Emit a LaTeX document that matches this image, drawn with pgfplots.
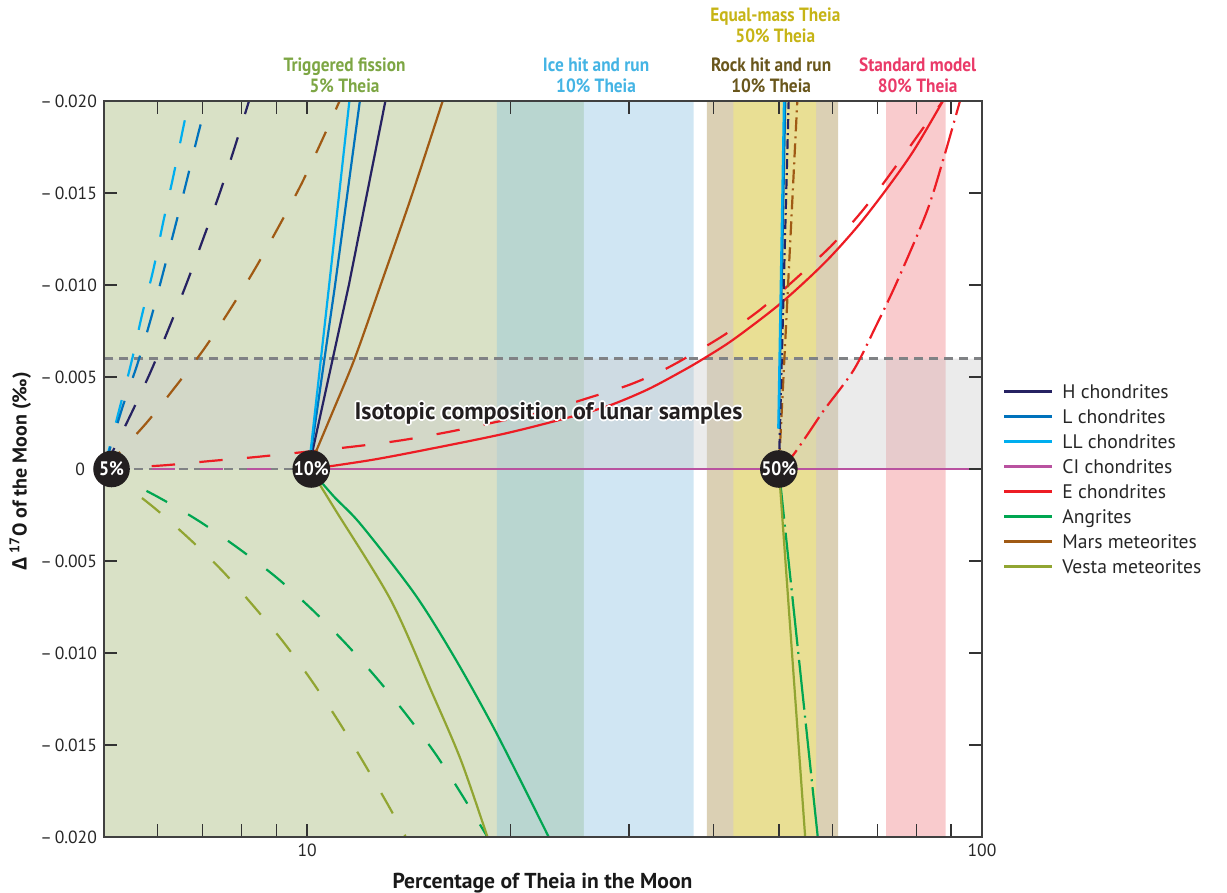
\documentclass[border=0pt]{standalone}
\usepackage{fontspec}
\setmainfont{PT Sans}
\newfontfamily\condfont[FakeStretch=0.9]{PT Sans}
\newfontfamily\deltafont{Open Sans}
\usepackage{pgfplots}
\pgfplotsset{compat=1.18}

\definecolor{cH}{RGB}{38,34,98}
\definecolor{cL}{RGB}{0,114,188}
\definecolor{cLL}{RGB}{0,174,239}
\definecolor{cCI}{RGB}{185,82,160}
\definecolor{cE}{RGB}{237,28,36}
\definecolor{cAng}{RGB}{0,166,81}
\definecolor{cMars}{RGB}{160,90,20}
\definecolor{cVesta}{RGB}{145,165,50}
\definecolor{bgFis}{RGB}{217,225,198}
\definecolor{bgTeal}{RGB}{185,214,208}
\definecolor{bgIce}{RGB}{208,230,243}
\definecolor{bgRock}{RGB}{219,208,180}
\definecolor{bgEq}{RGB}{233,223,148}
\definecolor{bgStd}{RGB}{249,203,205}
\definecolor{tFis}{RGB}{125,166,68}
\definecolor{tIce}{RGB}{68,180,228}
\definecolor{tRock}{RGB}{105,86,28}
\definecolor{tEq}{RGB}{198,180,22}
\definecolor{tStd}{RGB}{234,58,104}
\definecolor{dotgray}{RGB}{128,130,133}
\definecolor{circ}{RGB}{35,31,32}

\newcommand{\legline}[1]{\textcolor{#1}{\rule[2.9pt]{24pt}{1.5pt}}\hspace{5pt}}

\tikzset{
  dsh/.style={dash pattern=on 11.7pt off 12.2pt},
  ddE/.style={dash pattern=on 13pt off 3pt on 1pt off 3pt},
  ddG/.style={dash pattern=on 25pt off 3pt on 1pt off 3pt},
  ddH/.style={dash pattern=on 5pt off 2pt on 1pt off 2pt},
  ddM/.style={dash pattern=on 7pt off 2.5pt on 1pt off 2.5pt},
  pct/.style={circle, fill=circ, inner sep=0pt, minimum size=18.3pt, text=white,
    font=\condfont\bfseries\fontsize{9.8}{10}\selectfont},
  ttl/.style={anchor=base, font=\condfont\bfseries\fontsize{9.6}{10}\selectfont},
  iso/.style={anchor=base, font=\bfseries\fontsize{12}{13}\selectfont},
}

\begin{document}
\begin{tikzpicture}
\path[use as bounding box] (-52pt,-28pt) rectangle (561.5pt,418.5pt);
\begin{axis}[
  at={(0,0)}, anchor=south west,
  scale only axis, width=439pt, height=368pt,
  xmode=log, xmin=5, xmax=100, ymin=-0.02, ymax=0.02,
  xtick={10,100}, xticklabels={10,100},
  minor xtick={6,7,8,9,20,30,40,50,60,70,80,90},
  ytick={-0.02,-0.015,-0.01,-0.005,0,0.005,0.01,0.015,0.02},
  yticklabels={–\,0.020,–\,0.015,–\,0.010,–\,0.005,0\kern6pt,–\,0.005,–\,0.010,–\,0.015,–\,0.020},
  scaled y ticks=false,
  tick align=inside,
  major tick length=6.5pt, minor tick length=6.5pt,
  every tick/.style={black!80, line width=0.7pt},
  axis line style={black!75, line width=0.9pt},
  ticklabel style={font=\fontsize{8.8}{10}\selectfont, text=black!85},
  xlabel={\bfseries Percentage of Theia in the Moon},
  ylabel={\bfseries{\deltafont\bfseries Δ}\,\textsuperscript{17}O of the Moon (‰)},
  xlabel style={at={(axis description cs:0.4994,-0.0698)}, anchor=base, font=\fontsize{10.8}{12}\selectfont, text=black!90},
  ylabel style={at={(axis description cs:-0.0881,0.497)}, anchor=base, font=\fontsize{10}{11}\selectfont, text=black!90},
  clip mode=individual,
  axis on top,
  legend image code/.code={},
  legend cell align=left,
  legend style={at={(1.0228,0.6168)}, anchor=north west, draw=none, fill=none,
    font=\fontsize{9.8}{11}\selectfont, text=black!85, row sep=1.8pt, inner sep=0pt,
    nodes={inner sep=1pt, text height=6.7pt, text depth=2pt}},
]
% background regions
\addplot[draw=none, fill=bgFis, forget plot] coordinates {(5,-0.02) (19.1,-0.02) (19.1,0.02) (5,0.02) (5,-0.02)};
\addplot[draw=none, fill=bgTeal, forget plot] coordinates {(19.1,-0.02) (25.7,-0.02) (25.7,0.02) (19.1,0.02) (19.1,-0.02)};
\addplot[draw=none, fill=bgIce, forget plot] coordinates {(25.7,-0.02) (37.4,-0.02) (37.4,0.02) (25.7,0.02) (25.7,-0.02)};
\addplot[draw=none, fill=bgRock, forget plot] coordinates {(39.1,-0.02) (61.2,-0.02) (61.2,0.02) (39.1,0.02) (39.1,-0.02)};
\addplot[draw=none, fill=bgEq, forget plot] coordinates {(42.8,-0.02) (56.8,-0.02) (56.8,0.02) (42.8,0.02) (42.8,-0.02)};
\addplot[draw=none, fill=bgStd, forget plot] coordinates {(72.1,-0.02) (88.3,-0.02) (88.3,0.02) (72.1,0.02) (72.1,-0.02)};
% lunar band
\addplot[draw=none, fill=gray!40, fill opacity=0.4, forget plot] coordinates {(5,0) (100,0) (100,0.006) (5,0.006) (5,0)};
\addplot[dotgray, line width=1.1pt, dash pattern=on 4.5pt off 3pt, forget plot] coordinates {(5,0.006) (100,0.006)};
\addplot[dotgray, line width=1.1pt, dash pattern=on 4.5pt off 3pt, forget plot] coordinates {(5,0) (100,0)};

% ---- 5% Theia (dashed) ----
\addplot[cLL, line width=1.1pt, dsh, smooth, forget plot] coordinates {(5,0) (5.27,0.00326) (5.49,0.0058) (5.69,0.00834) (5.92,0.01087) (6.12,0.01342) (6.34,0.01598) (6.55,0.01852) (6.68,0.02)};
\addplot[cL, line width=1.1pt, dsh, smooth, forget plot] coordinates {(5,0) (5.31,0.00321) (5.60,0.00567) (5.87,0.00819) (6.12,0.01069) (6.38,0.01323) (6.64,0.01575) (6.90,0.01826) (7.11,0.02)};
\addplot[cH, line width=1.1pt, dsh, smooth, forget plot] coordinates {(5,0) (5.48,0.00297) (5.87,0.00533) (6.25,0.00772) (6.64,0.01016) (7.03,0.01261) (7.43,0.01505) (7.82,0.01755) (8.2,0.02)};
\addplot[cMars, line width=1.1pt, dsh, smooth, forget plot] coordinates {(5,0) (5.75,0.00241) (6.37,0.00444) (7.03,0.00651) (7.70,0.0087) (8.38,0.01091) (9.08,0.01319) (9.80,0.01547) (10.51,0.01783) (11.17,0.02)};
\addplot[cAng, line width=1.1pt, dsh, smooth, forget plot] coordinates {(5,0) (6.01,-0.00152) (6.92,-0.00284) (7.91,-0.00431) (9.01,-0.0059) (10.17,-0.00764) (11.41,-0.00949) (12.72,-0.01143) (14.09,-0.01344) (15.52,-0.01552) (16.97,-0.01773) (18.5,-0.02)};
\addplot[cVesta, line width=1.1pt, dsh, smooth, forget plot] coordinates {(5,0) (5.89,-0.00201) (6.67,-0.00375) (7.49,-0.00554) (8.35,-0.0075) (9.26,-0.00949) (10.2,-0.01161) (11.16,-0.01378) (12.15,-0.01601) (13.18,-0.01826) (14.0,-0.02)};
\addplot[cE, line width=1.1pt, dsh, smooth, forget plot] coordinates {(5,0) (6.14,0.0002) (7.22,0.00044) (8.5,0.00067) (11.6,0.0012) (13.8,0.00156) (16.18,0.00201) (19.03,0.00255) (22.38,0.0031) (25.93,0.00383) (30.05,0.00458) (34.31,0.00552) (40.75,0.0071) (46.7,0.0086) (53.19,0.0104) (60.05,0.0122) (67.06,0.0142) (74.03,0.0163) (80.97,0.0183) (87.5,0.02)};
\addplot[cCI, line width=1.4pt, dsh, forget plot] coordinates {(5,0) (10,0)};

% ---- 10% Theia (solid) ----
\addplot[cMars, line width=1.1pt, smooth, forget plot] coordinates {(10.05,0) (10.88,0.003) (11.76,0.006) (12.85,0.01) (14.3,0.0149) (15.88,0.02)};
\addplot[cH, line width=1.1pt, forget plot] coordinates {(10.05,0) (11.53,0.01) (13.06,0.02)};
\addplot[cL, line width=1.1pt, forget plot] coordinates {(10.05,0) (11.0,0.01) (11.97,0.02)};
\addplot[cLL, line width=1.1pt, forget plot] coordinates {(10.05,0) (10.78,0.01) (11.55,0.02)};
\addplot[cAng, line width=1.1pt, smooth, forget plot] coordinates {(10.1,0) (10.97,-0.00152) (12,-0.003) (14.42,-0.00677) (16.52,-0.01022) (19.04,-0.01429) (22.8,-0.02)};
\addplot[cVesta, line width=1.1pt, smooth, forget plot] coordinates {(10.1,0) (11.0,-0.0022) (13.31,-0.00714) (15.26,-0.01203) (16.9,-0.01583) (18.5,-0.02)};
\addplot[cE, line width=1.1pt, smooth, forget plot] coordinates {(10.14,0) (12.5,0.0005) (15.25,0.0011) (19.5,0.0019) (23.73,0.00268) (27.8,0.0034) (31.87,0.0043) (35.75,0.00527) (38.61,0.00598) (42.87,0.00705) (50.3,0.009) (58.25,0.01115) (65.26,0.01314) (72.27,0.01523) (79.14,0.01728) (87.2,0.0199) (87.4,0.02)};
\addplot[cCI, line width=1.4pt, forget plot] coordinates {(10,0) (100,0)};

% ---- 50% Theia (dash-dot) ----
\addplot[cMars, line width=1.1pt, ddM, forget plot] coordinates {(50,0) (53.25,0.02)};
\addplot[cH, line width=1.1pt, ddH, forget plot] coordinates {(50,0) (51.7,0.02)};
\addplot[cL, line width=1.1pt, forget plot] coordinates {(50.0,0.0022) (51.11,0.02)};
\addplot[cLL, line width=1.1pt, forget plot] coordinates {(49.9,0.0022) (50.88,0.02)};
\addplot[cE, line width=1.1pt, ddE, smooth, forget plot] coordinates {(50,0) (52.23,0.00065) (55.2,0.0019) (58.3,0.00319) (64.5,0.00536) (69.5,0.0077) (74.8,0.01016) (82.8,0.01397) (87.7,0.01687) (92.6,0.0199) (92.7,0.02)};
\addplot[cAng, line width=1.1pt, ddG, forget plot] coordinates {(50,0) (57.1,-0.02)};
\addplot[cVesta, line width=1.1pt, forget plot] coordinates {(50,0) (54.7,-0.02)};

% circle positions
\coordinate (c5) at (axis cs:5.13,0);
\coordinate (c10) at (axis cs:10.14,0);
\coordinate (c50) at (axis cs:50,0);

% halo text
\foreach \dx/\dy in {0.9/0, -0.9/0, 0/0.9, 0/-0.9, 0.65/0.65, -0.65/0.65, 0.65/-0.65, -0.65/-0.65} {
  \edef\tmp{\noexpand\node[iso, text=white, xshift=\dx pt, yshift=\dy pt] at (axis cs:22.79,0.0027) {Isotopic composition of lunar samples};}
  \tmp
}
\node[iso, text=circ] at (axis cs:22.79,0.0027) {Isotopic composition of lunar samples};

% titles
\node[ttl, text=tFis, yshift=14.5pt] at (axis cs:11.36,0.02) {Triggered fission};
\node[ttl, text=tFis, yshift=4pt] at (axis cs:11.36,0.02) {5\% Theia};
\node[ttl, text=tIce, yshift=14.5pt] at (axis cs:26.8,0.02) {Ice hit and run};
\node[ttl, text=tIce, yshift=4pt] at (axis cs:26.8,0.02) {10\% Theia};
\node[ttl, text=tRock, yshift=14.5pt] at (axis cs:48.7,0.02) {Rock hit and run};
\node[ttl, text=tRock, yshift=4pt] at (axis cs:48.7,0.02) {10\% Theia};
\node[ttl, text=tEq, yshift=39.5pt] at (axis cs:49.4,0.02) {Equal-mass Theia};
\node[ttl, text=tEq, yshift=29pt] at (axis cs:49.4,0.02) {50\% Theia};
\node[ttl, text=tStd, yshift=14.5pt] at (axis cs:80.3,0.02) {Standard model};
\node[ttl, text=tStd, yshift=4pt] at (axis cs:80.3,0.02) {80\% Theia};

% legend
\addlegendimage{empty legend}\addlegendentry{\legline{cH}H chondrites}
\addlegendimage{empty legend}\addlegendentry{\legline{cL}L chondrites}
\addlegendimage{empty legend}\addlegendentry{\legline{cLL}LL chondrites}
\addlegendimage{empty legend}\addlegendentry{\legline{cCI}CI chondrites}
\addlegendimage{empty legend}\addlegendentry{\legline{cE}E chondrites}
\addlegendimage{empty legend}\addlegendentry{\legline{cAng}Angrites}
\addlegendimage{empty legend}\addlegendentry{\legline{cMars}Mars meteorites}
\addlegendimage{empty legend}\addlegendentry{\legline{cVesta}Vesta meteorites}
\end{axis}
\node[pct] at (c5) {5\%};
\node[pct] at (c10) {10\%};
\node[pct] at (c50) {50\%};
\end{tikzpicture}
\end{document}
